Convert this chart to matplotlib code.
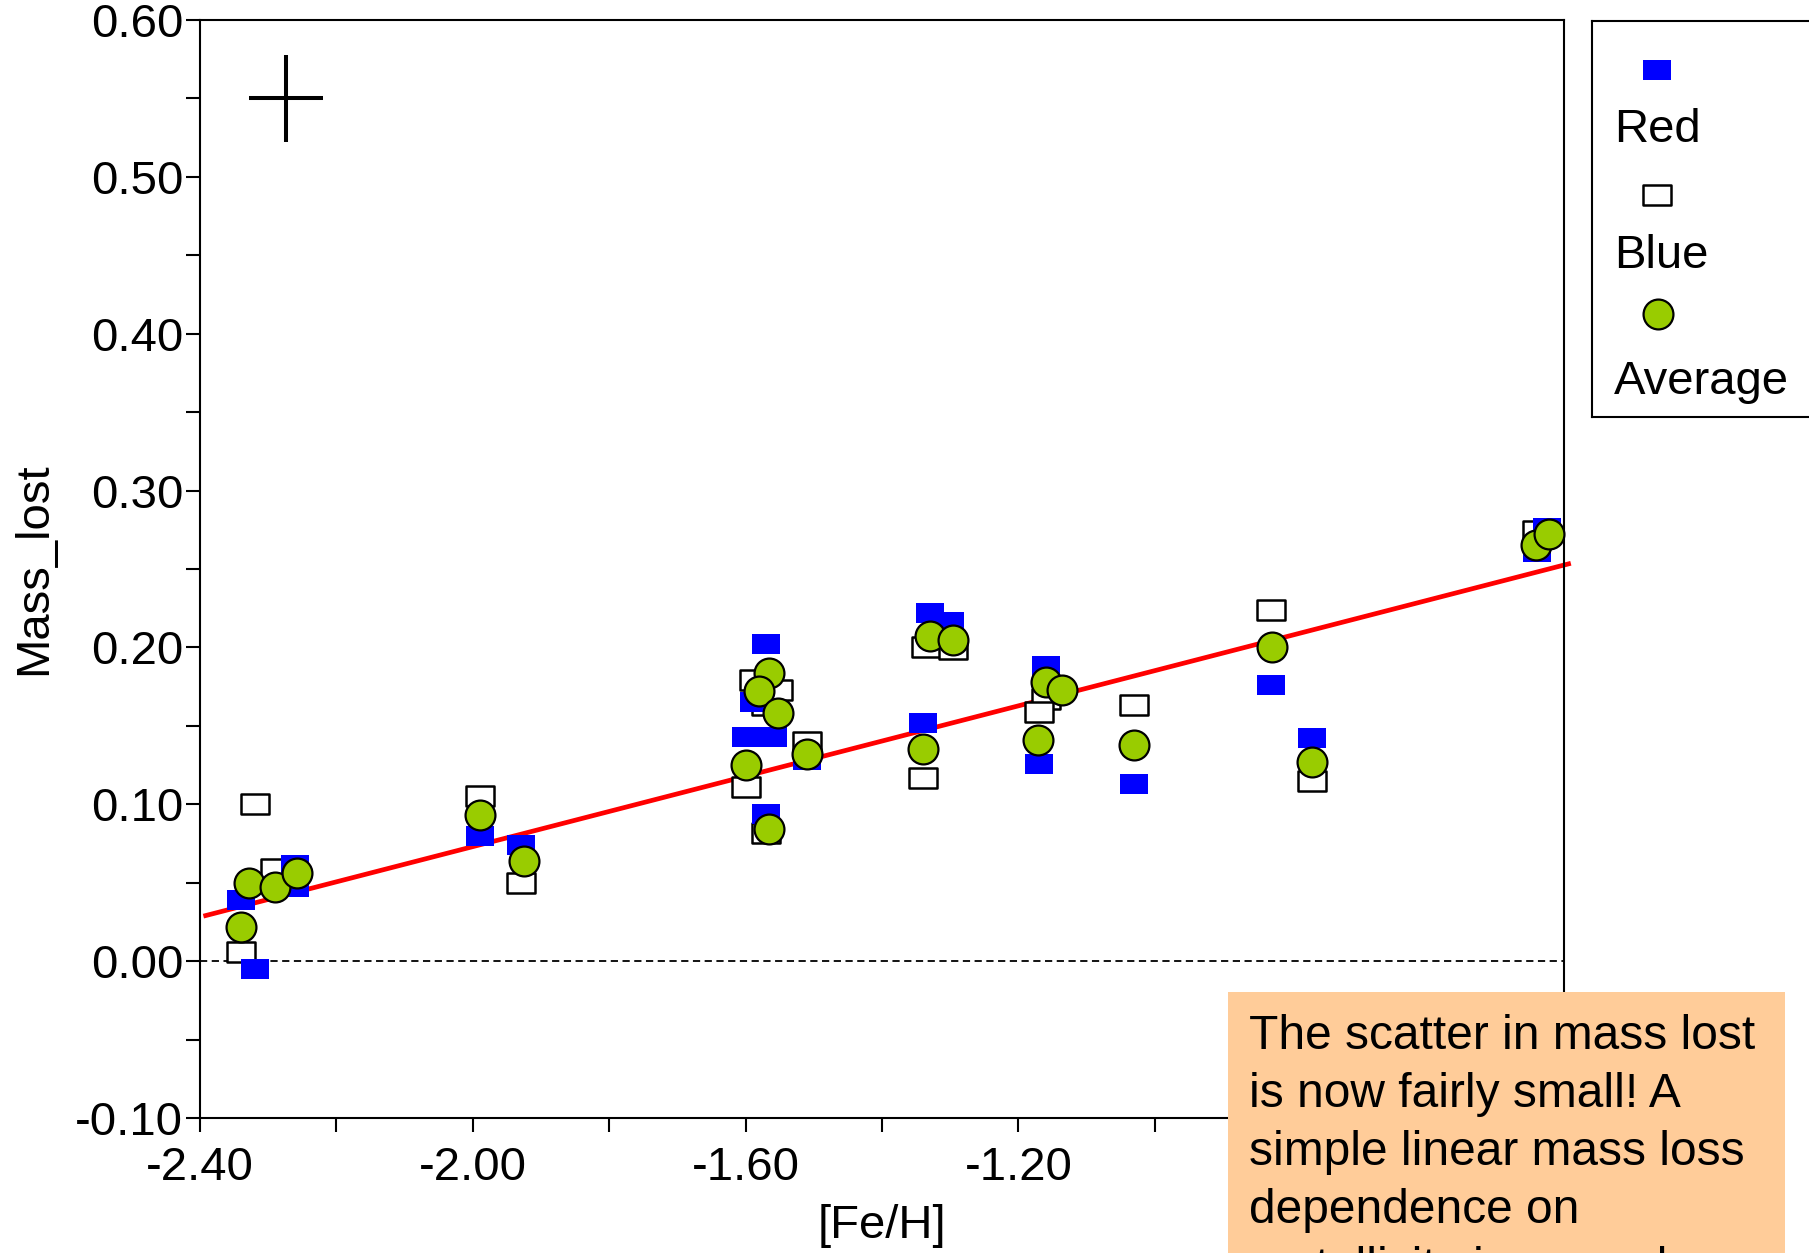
import numpy as np
import matplotlib
matplotlib.use("Agg")
import matplotlib.pyplot as plt
from matplotlib.path import Path
from matplotlib.patches import Rectangle
from matplotlib.ticker import MultipleLocator, FuncFormatter

plt.rcParams['font.family'] = ['Liberation Sans', 'DejaVu Sans']
plt.rcParams['axes.unicode_minus'] = False

# mass lost by red and blue HB stars, and their average, against metallicity
feh_red = [-2.34, -2.32, -2.26, -2.26, -1.99, -1.93, -1.57, -1.587, -1.56, -1.60,
           -1.51, -1.57, -1.33, -1.30, -1.34, -1.16, -1.17, -1.03, -0.83, -0.77,
           -0.44, -0.425]
mass_red = [0.039, -0.005, 0.047, 0.061, 0.080, 0.074, 0.202, 0.165, 0.143, 0.143,
            0.128, 0.094, 0.222, 0.216, 0.152, 0.188, 0.126, 0.113, 0.176, 0.142,
            0.261, 0.276]

feh_blue = [-2.34, -2.32, -2.29, -1.99, -1.93, -1.57, -1.587, -1.553, -1.60, -1.51,
            -1.57, -1.336, -1.296, -1.34, -1.16, -1.17, -1.03, -0.83, -0.77, -0.44]
mass_blue = [0.006, 0.100, 0.059, 0.105, 0.050, 0.163, 0.179, 0.173, 0.111, 0.140,
             0.082, 0.200, 0.199, 0.117, 0.167, 0.159, 0.163, 0.224, 0.115, 0.274]

feh_avg = [-2.34, -2.328, -2.29, -2.258, -1.99, -1.925, -1.565, -1.58, -1.553, -1.60,
           -1.51, -1.565, -1.329, -1.296, -1.34, -1.16, -1.136, -1.171, -1.03, -0.8275,
           -0.769, -0.4415, -0.422]
mass_avg = [0.022, 0.050, 0.047, 0.056, 0.093, 0.064, 0.184, 0.172, 0.158, 0.125,
            0.132, 0.084, 0.207, 0.205, 0.135, 0.178, 0.173, 0.141, 0.138, 0.200,
            0.127, 0.265, 0.272]

# linear fit: mass_lost = fit_b + fit_a * [Fe/H]
fit_a = 0.1122
fit_b = 0.2974
fit_x = [-2.395, -0.39]

# typical error bar
err_x, err_y = -2.274, 0.550
err_dx, err_dy = 0.054, 0.028

note = ("The scatter in mass lost\n"
        "is now fairly small! A\n"
        "simple linear mass loss\n"
        "dependence on\n"
        "metallicity is a good")

W, H = 1809, 1253
fig = plt.figure(figsize=(W / 100, H / 100), dpi=100)
ax = fig.add_axes([200 / W, 1 - 1118 / H, 1364 / W, 1098 / H])

# wide box marker (4:3)
box = Path([(-1, -0.75), (1, -0.75), (1, 0.75), (-1, 0.75), (-1, -0.75)], closed=True)

ax.axhline(0, color='black', lw=1.3, ls=(0, (4, 2.5)), zorder=1)
ax.plot(fit_x, np.polyval([fit_a, fit_b], fit_x), color='#FF0000', lw=3.4,
        zorder=2, clip_on=False, solid_capstyle='butt')
ax.plot(feh_blue, mass_blue, ls='none', marker=box, ms=20, mfc='white', mec='black',
        mew=1.8, zorder=3)
ax.plot(feh_red, mass_red, ls='none', marker=box, ms=20, mfc='#0000FF', mec='#0000FF',
        mew=0, zorder=4)
ax.plot(feh_avg, mass_avg, ls='none', marker='o', ms=21.5, mfc='#99CC00', mec='black',
        mew=1.6, zorder=5, clip_on=False)
ax.errorbar(err_x, err_y, xerr=err_dx, yerr=err_dy, fmt='none', ecolor='black',
            elinewidth=2.9, capsize=0)

ax.set_xlim(-2.40, -0.40)
ax.set_ylim(-0.10, 0.60)
ax.xaxis.set_major_locator(MultipleLocator(0.4))
ax.xaxis.set_minor_locator(MultipleLocator(0.2))
ax.yaxis.set_major_locator(MultipleLocator(0.1))
ax.yaxis.set_minor_locator(MultipleLocator(0.05))
# the note box sits over the last two x labels, so they are left blank
ax.xaxis.set_major_formatter(FuncFormatter(lambda v, p: '%.2f' % v if v < -1.0 else ''))
ax.yaxis.set_major_formatter(FuncFormatter(lambda v, p: '%.2f' % v))
ax.tick_params(which='both', direction='out', length=10, width=1.5, labelsize=34)
ax.tick_params(axis='y', pad=2)
ax.tick_params(axis='x', pad=10)
for s in ax.spines.values():
    s.set_linewidth(1.5)

ax.set_xlabel('[Fe/H]', fontsize=34, labelpad=10)
ax.set_ylabel('Mass_lost', fontsize=34, labelpad=14)

# legend, drawn in pixel units on its own axes
lax = fig.add_axes([1592 / W, 1 - 417 / H, 260 / W, 396 / H])
lax.set_xlim(1592, 1852)
lax.set_ylim(417, 21)
lax.set_xticks([])
lax.set_yticks([])
for s in lax.spines.values():
    s.set_linewidth(1.5)
lax.plot([1657], [69.5], ls='none', marker=box, ms=20, mfc='#0000FF', mec='#0000FF', mew=0)
lax.plot([1657], [195], ls='none', marker=box, ms=20, mfc='white', mec='black', mew=1.8)
lax.plot([1658], [314], ls='none', marker='o', ms=21.5, mfc='#99CC00', mec='black', mew=1.6)
for label, yb in [('Red', 142), ('Blue', 268), ('Average', 394)]:
    lax.text(1614, yb, label, fontsize=34, va='baseline', ha='left')

# note box in the lower right corner
fig.add_artist(Rectangle((1228 / W, -0.05), 557 / W, 261 / H + 0.05,
                         transform=fig.transFigure, facecolor='#FFCC99',
                         edgecolor='none', zorder=10))
fig.text(1249 / W, 1 - 1014 / H, note, fontsize=34.5, va='top', ha='left',
         linespacing=1.37, zorder=11)

fig.savefig('out.png', dpi=100)
